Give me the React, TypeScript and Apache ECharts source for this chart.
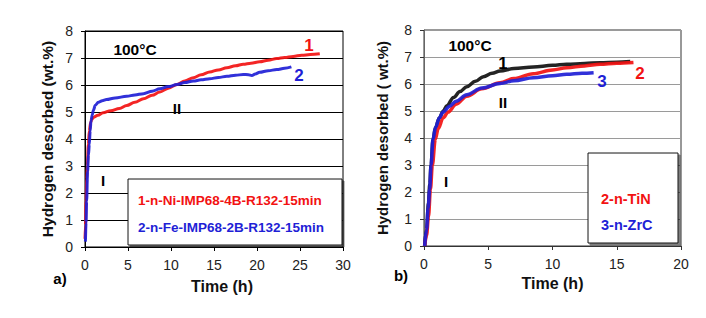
import React, { useEffect, useRef } from "react";
import * as echarts from "echarts";

// Panel a) series 1 (red): 1-n-Ni-IMP68-4B-R132-15min
const aTime1 = [0, 0.05, 0.12, 0.2, 0.27, 0.39, 0.5, 0.66, 0.8, 0.97, 1.5, 2.1, 3, 4, 4.85, 5.8, 6.8, 7.8, 8.7, 9.7, 10.7, 11.6, 12.6, 13.5, 14.5, 15.5, 16.5, 17.5, 18.4, 19.3, 20.3, 21.3, 22.3, 23.2, 24.2, 25.2, 26.2, 27.3];
const aH1 = [0.3, 0.8, 1.7, 2.5, 3.0, 3.8, 4.3, 4.62, 4.72, 4.8, 4.88, 4.97, 5.05, 5.13, 5.24, 5.36, 5.49, 5.62, 5.74, 5.88, 6.02, 6.15, 6.27, 6.38, 6.48, 6.56, 6.64, 6.71, 6.77, 6.81, 6.86, 6.92, 6.98, 7.02, 7.06, 7.1, 7.13, 7.16];
// Panel a) series 2 (blue): 2-n-Fe-IMP68-2B-R132-15min
const aTime2 = [0.05, 0.12, 0.19, 0.3, 0.4, 0.5, 0.6, 0.7, 0.85, 0.97, 1.2, 1.55, 2, 2.5, 3.5, 4.85, 5.8, 6.8, 7.8, 8.7, 9.7, 10.7, 11.6, 12.6, 13.5, 14.5, 15.5, 16.5, 17.5, 18.4, 19.0, 19.4, 19.8, 20.3, 21.3, 22.3, 23.2, 24.0];
const aH2 = [0.2, 0.9, 1.7, 2.8, 3.4, 3.8, 4.3, 4.68, 4.9, 5.06, 5.25, 5.36, 5.42, 5.46, 5.52, 5.58, 5.63, 5.68, 5.77, 5.86, 5.94, 6.02, 6.09, 6.15, 6.19, 6.23, 6.28, 6.32, 6.36, 6.39, 6.38, 6.35, 6.41, 6.47, 6.53, 6.57, 6.62, 6.67];

// Panel b) curve 1 (black)
const bTime1 = [0.05, 0.2, 0.35, 0.45, 0.55, 0.7, 0.9, 1.2, 1.5, 1.77, 2.3, 2.8, 3.33, 4, 4.62, 5.3, 5.92, 7, 8.5, 10, 11.1, 12.5, 13.7, 15, 16.05];
const bH1 = [0, 0.6, 1.6, 2.3, 3.0, 3.95, 4.4, 4.75, 5.0, 5.19, 5.5, 5.72, 5.9, 6.1, 6.27, 6.4, 6.48, 6.57, 6.63, 6.69, 6.73, 6.76, 6.79, 6.81, 6.83];
// Panel b) curve 2 (red): 2-n-TiN
const bTime2 = [0.05, 0.2, 0.35, 0.5, 0.65, 0.88, 1.1, 1.5, 1.87, 2.5, 3.33, 4.5, 5.92, 7, 8.5, 10, 11.1, 12.5, 13.7, 15, 16.3];
const bH2 = [0, 0.4, 1.1, 2.1, 3.0, 3.95, 4.35, 4.75, 4.96, 5.25, 5.55, 5.82, 6.05, 6.2, 6.38, 6.52, 6.6, 6.67, 6.73, 6.77, 6.8];
// Panel b) curve 3 (blue): 3-n-ZrC
const bTime3 = [0.05, 0.2, 0.32, 0.44, 0.55, 0.7, 0.9, 1.2, 1.48, 2, 2.5, 3.33, 4.5, 5.92, 7, 8.5, 10, 11.1, 12.3, 13.2];
const bH3 = [0, 0.6, 1.4, 2.1, 3.0, 3.95, 4.4, 4.75, 4.96, 5.18, 5.36, 5.6, 5.85, 6.02, 6.12, 6.23, 6.31, 6.36, 6.4, 6.42];

const legendA = ["1-n-Ni-IMP68-4B-R132-15min", "2-n-Fe-IMP68-2B-R132-15min"];
const legendB = ["2-n-TiN", "3-n-ZrC"];

const RED = "#f21212";
const BLUE = "#1f1fd6";
const BLACK = "#111111";
const FONT = "Liberation Sans, Arial, sans-serif";

const zip = (xs: number[], ys: number[]) => xs.map((x, i) => [x, ys[i]]);

export default function App() {
  const ref = useRef<HTMLDivElement>(null);
  useEffect(() => {
    document.body.style.margin = "0";
    const chart = echarts.init(ref.current!, null, { renderer: "svg" });
    const tickLabel = { fontFamily: FONT, fontSize: 14, color: "#222" };
    const nameStyle = { fontFamily: FONT, fontSize: 15.5, fontWeight: "bold" as const, color: "#111" };
    const lineSeries = (data: number[][], color: string, xi: number, w: number) => ({
      type: "line",
      xAxisIndex: xi,
      yAxisIndex: xi,
      data,
      showSymbol: false,
      smooth: 0.35,
      smoothMonotone: "x",
      lineStyle: { color, width: w, opacity: 0.92 },
      z: 3,
    });
    const txt = (x: number, y: number, text: string, fill: string, size = 15, align = "center") => ({
      type: "text",
      x,
      y,
      z: 100,
      style: { text, fill, font: `bold ${size}px ${FONT}`, textAlign: align, textVerticalAlign: "middle" },
    });
    chart.setOption({
      animation: false,
      grid: [
        { left: 85, top: 31, width: 258, height: 216, show: true, borderColor: "#000", borderWidth: 1 },
        { left: 424, top: 30, width: 257, height: 216, show: true, borderColor: "#333", borderWidth: 1 },
      ],
      xAxis: [
        {
          gridIndex: 0, type: "value", min: 0, max: 30, interval: 5,
          axisLine: { lineStyle: { color: "#000" } },
          axisTick: { show: true, length: 4, lineStyle: { color: "#000" } },
          axisLabel: { ...tickLabel, margin: 11 },
          splitLine: { show: false },
          name: "Time (h)", nameLocation: "middle", nameGap: 31, nameTextStyle: { ...nameStyle, fontSize: 16, padding: [0, 0, 0, 16] },
        },
        {
          gridIndex: 1, type: "value", min: 0, max: 20, interval: 5,
          axisLine: { lineStyle: { color: "#333" } },
          axisTick: { show: true, length: 4, lineStyle: { color: "#333" } },
          axisLabel: { ...tickLabel, margin: 11 },
          splitLine: { show: false },
          name: "Time (h)", nameLocation: "middle", nameGap: 27, nameTextStyle: { ...nameStyle, fontSize: 16 },
        },
      ],
      yAxis: [
        {
          gridIndex: 0, type: "value", min: 0, max: 8, interval: 1,
          axisLine: { show: true, lineStyle: { color: "#000" } },
          axisTick: { show: true, length: 4, lineStyle: { color: "#000" } },
          axisLabel: { ...tickLabel, margin: 12 },
          splitLine: { show: true, lineStyle: { color: "#000", width: 1 } },
          name: "Hydrogen desorbed (wt.%)", nameLocation: "middle", nameGap: 30, nameRotate: 90, nameTextStyle: nameStyle,
        },
        {
          gridIndex: 1, type: "value", min: 0, max: 8, interval: 1,
          axisLine: { show: true, lineStyle: { color: "#666" } },
          axisTick: { show: true, length: 4, lineStyle: { color: "#333" } },
          axisLabel: { ...tickLabel, margin: 12 },
          splitLine: { show: true, lineStyle: { color: "#9a9a9a", width: 1 } },
          name: "Hydrogen desorbed ( wt.%)", nameLocation: "middle", nameGap: 34, nameRotate: 90, nameTextStyle: { ...nameStyle, fontSize: 15 },
        },
      ],
      series: [
        lineSeries(zip(aTime1, aH1), RED, 0, 3),
        lineSeries(zip(aTime2, aH2), BLUE, 0, 3),
        lineSeries(zip(bTime1, bH1), BLACK, 1, 3.5),
        lineSeries(zip(bTime2, bH2), RED, 1, 3.5),
        lineSeries(zip(bTime3, bH3), BLUE, 1, 3.5),
      ],
      graphic: [
        {
          type: "rect", z: 50, shape: { x: 128, y: 179, width: 214, height: 66 },
          style: { fill: "#fff", stroke: "#111", lineWidth: 1, shadowColor: "rgba(0,0,0,0.5)", shadowOffsetX: 2, shadowOffsetY: 2, shadowBlur: 0 },
        },
        txt(138, 200, legendA[0], RED, 13.5, "left"),
        txt(138, 227, legendA[1], BLUE, 13.5, "left"),
        {
          type: "rect", z: 50, shape: { x: 588, y: 153, width: 90, height: 90 },
          style: { fill: "#fff", stroke: "#111", lineWidth: 1, shadowColor: "rgba(0,0,0,0.5)", shadowOffsetX: 2, shadowOffsetY: 2, shadowBlur: 0 },
        },
        txt(601, 199, legendB[0], RED, 14.5, "left"),
        txt(601, 225, legendB[1], BLUE, 14.5, "left"),
        txt(135, 49, "100°C", "#000", 15.5),
        txt(309, 45, "1", RED, 17),
        txt(299, 75, "2", BLUE, 17),
        txt(177, 108, "II", "#000", 15),
        txt(103, 180, "I", "#000", 15),
        txt(60, 278, "a)", "#000", 15),
        txt(470, 45, "100°C", "#000", 15.5),
        txt(503, 63, "1", "#000", 17),
        txt(640, 73, "2", RED, 17),
        txt(602, 81, "3", BLUE, 17),
        txt(503, 102, "II", "#000", 15),
        txt(446, 181, "I", "#000", 15),
        txt(401, 275, "b)", "#000", 15),
      ],
    });
    return () => chart.dispose();
  }, []);
  return <div ref={ref} style={{ width: 706, height: 318 }} />;
}
